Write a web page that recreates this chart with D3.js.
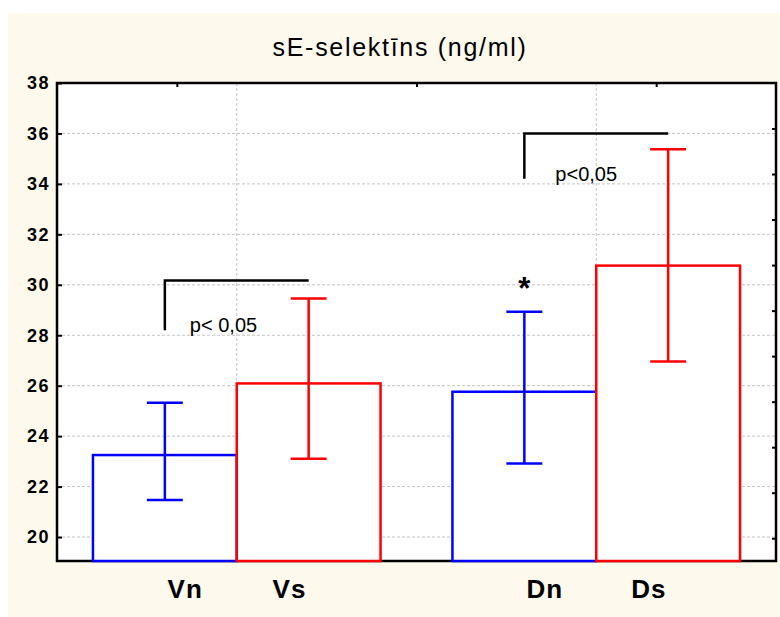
<!DOCTYPE html>
<html>
<head>
<meta charset="utf-8">
<script src="https://cdn.jsdelivr.net/npm/d3@7"></script>
<style>
  body { margin: 0; background: #fff; }
  svg { display: block; }
</style>
</head>
<body>
<svg width="780" height="617"></svg>
<script>
// data
var categories = ["Vn", "Vs", "Dn", "Ds"];
var means = [23.25, 26.09, 25.76, 30.76];
var upper = [25.32, 29.46, 28.93, 35.37];
var lower = [21.47, 23.10, 22.92, 26.96];
var yTicks = [20, 22, 24, 26, 28, 30, 32, 34, 36, 38];
var bracketTop = [30.17, 36.0];
var bracketLeg = [28.2, 34.2];
var pLabels = ["p< 0,05", "p<0,05"];
var starValue = 30.08;   // over Dn
var title = "sE-selektīns (ng/ml)";

var svg = d3.select("svg"),
    width = +svg.attr("width"),
    height = +svg.attr("height");

// plot box (note: "top" is reserved on window, so use other names)
var pLeft = 57, pRight = 776, pTop = 83, pBottom = 561;
var blue = "#0000ff", red = "#ff0000";

// background
svg.append("rect").attr("x", 8).attr("y", 13)
    .attr("width", width - 8).attr("height", height - 13)
    .attr("fill", "#fdf9ed");
svg.append("rect").attr("x", pLeft).attr("y", pTop)
    .attr("width", pRight - pLeft).attr("height", pBottom - pTop)
    .attr("fill", "#fff");

// scales
var x = d3.scaleLinear().domain([0, 6]).range([pLeft, pRight]);
var y = d3.scaleLinear().domain([19.05, 38]).range([pBottom, pTop]);
var yRight = d3.scaleLinear().domain([0, 10.5]).range([pTop, pBottom]);

var barW = 1.2;
function groupCenter(i) { return 1.5 + 3 * Math.floor(i / 2); }
function barX0(i) { return groupCenter(i) - barW + (i % 2) * barW; }
function barMid(i) { return barX0(i) + barW / 2; }
function color(i) { return i % 2 ? red : blue; }

// grid
var grid = svg.append("g").attr("stroke", "#c4c4c4").attr("stroke-dasharray", "3,2")
    .attr("stroke-width", 1);
grid.selectAll(".h").data(yTicks.slice(0, -1)).enter().append("line")
    .attr("x1", pLeft).attr("x2", pRight)
    .attr("y1", function (d) { return y(d); }).attr("y2", function (d) { return y(d); });
grid.selectAll(".v").data([1.5, 4.5]).enter().append("line")
    .attr("y1", pTop).attr("y2", pBottom)
    .attr("x1", function (d) { return x(d); }).attr("x2", function (d) { return x(d); });

// left axis
var yAxis = d3.axisLeft(y).tickValues(yTicks).tickSize(-5).tickPadding(7);
var gy = svg.append("g").attr("transform", "translate(" + pLeft + ",0)").call(yAxis);
gy.select(".domain").remove();
gy.selectAll("line").attr("stroke", "#000").attr("stroke-width", 2);
gy.selectAll("text")
    .style("font-family", "Liberation Sans, Arial, sans-serif")
    .style("font-weight", "bold").style("font-size", "18px")
    .style("letter-spacing", "1.5px").attr("fill", "#000");

// right axis ticks (no labels)
var gr = svg.append("g").attr("transform", "translate(" + pRight + ",0)")
    .call(d3.axisRight(yRight).tickValues(d3.range(1, 11)).tickSize(-4).tickFormat(""));
gr.select(".domain").remove();
gr.selectAll("line").attr("stroke", "#000").attr("stroke-width", 2);

// top axis ticks (no labels)
var gt = svg.append("g").attr("transform", "translate(0," + pTop + ")")
    .call(d3.axisTop(x).tickValues([1, 3, 5]).tickSize(-4).tickFormat(""));
gt.select(".domain").remove();
gt.selectAll("line").attr("stroke", "#000").attr("stroke-width", 2);

// frame
svg.append("rect").attr("x", pLeft).attr("y", pTop)
    .attr("width", pRight - pLeft).attr("height", pBottom - pTop)
    .attr("fill", "none").attr("stroke", "#000").attr("stroke-width", 2.5);

// bars
svg.append("g").selectAll("rect").data(means).enter().append("rect")
    .attr("x", function (d, i) { return x(barX0(i)); })
    .attr("y", function (d) { return y(d); })
    .attr("width", function (d, i) { return x(barX0(i) + barW) - x(barX0(i)); })
    .attr("height", function (d) { return pBottom - y(d); })
    .attr("fill", "#fff")
    .attr("stroke", function (d, i) { return color(i); })
    .attr("stroke-width", 2.5);

// error bars
var capW = 0.15;
var err = svg.append("g").selectAll("g").data(means).enter().append("g")
    .attr("stroke", function (d, i) { return color(i); })
    .attr("stroke-width", 2.5);
err.append("line")
    .attr("x1", function (d, i) { return x(barMid(i)); })
    .attr("x2", function (d, i) { return x(barMid(i)); })
    .attr("y1", function (d, i) { return y(upper[i]); })
    .attr("y2", function (d, i) { return y(lower[i]); });
err.append("line")
    .attr("x1", function (d, i) { return x(barMid(i) - capW); })
    .attr("x2", function (d, i) { return x(barMid(i) + capW); })
    .attr("y1", function (d, i) { return y(upper[i]); })
    .attr("y2", function (d, i) { return y(upper[i]); });
err.append("line")
    .attr("x1", function (d, i) { return x(barMid(i) - capW); })
    .attr("x2", function (d, i) { return x(barMid(i) + capW); })
    .attr("y1", function (d, i) { return y(lower[i]); })
    .attr("y2", function (d, i) { return y(lower[i]); });

// significance brackets
var textShift = [25, 31];
var br = svg.append("g").selectAll("g").data(bracketTop).enter().append("g");
br.append("path")
    .attr("d", function (d, k) {
        var xa = x(barMid(2 * k)), xb = x(barMid(2 * k + 1));
        return "M" + xa + "," + y(bracketLeg[k]) + "V" + y(d) + "H" + xb;
    })
    .attr("fill", "none").attr("stroke", "#000").attr("stroke-width", 2.5);
br.append("text")
    .attr("x", function (d, k) { return x(barMid(2 * k)) + textShift[k]; })
    .attr("y", function (d, k) { return y(bracketLeg[k]) + 2; })
    .text(function (d, k) { return pLabels[k]; })
    .style("font-family", "Liberation Sans, Arial, sans-serif")
    .style("font-size", "20px").attr("fill", "#000");

// asterisk over Dn
svg.append("text")
    .attr("x", x(barMid(2))).attr("y", y(starValue) + 16)
    .attr("text-anchor", "middle")
    .style("font-family", "Liberation Sans, Arial, sans-serif")
    .style("font-weight", "bold").style("font-size", "31px")
    .text("*");

// category labels
svg.append("g").selectAll("text").data(categories).enter().append("text")
    .attr("x", function (d, i) { return x(groupCenter(i) + (i % 2 ? 0.44 : -0.43)); })
    .attr("y", 598)
    .attr("text-anchor", "middle")
    .style("font-family", "Liberation Sans, Arial, sans-serif")
    .style("font-weight", "bold").style("font-size", "26px")
    .style("letter-spacing", "1px")
    .text(function (d) { return d; });

// title
svg.append("text")
    .attr("x", 400).attr("y", 56)
    .attr("text-anchor", "middle")
    .style("font-family", "Liberation Sans, Arial, sans-serif")
    .style("font-size", "25px").style("letter-spacing", "1.7px")
    .text(title);
</script>
</body>
</html>
